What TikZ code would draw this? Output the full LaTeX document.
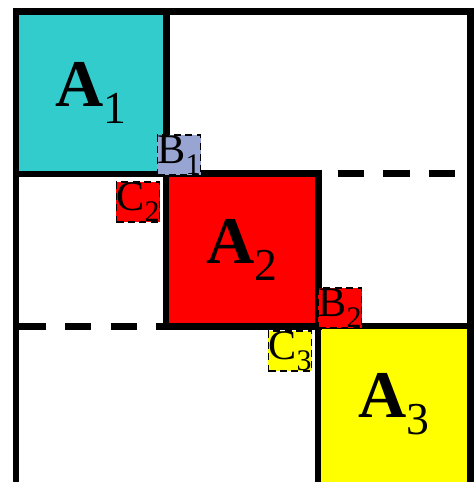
\documentclass[tikz,border=0pt]{standalone}
\usepackage{fontspec}
\setmainfont{Liberation Serif}
\usepackage{tikz}
\usetikzlibrary{positioning}
\definecolor{blockcyan}{RGB}{51,204,204}
\definecolor{blocklav}{RGB}{152,164,210}
\definecolor{blockred}{RGB}{255,0,0}
\definecolor{blockyellow}{RGB}{255,255,0}
\newcommand{\blocksub}[3]{\raisebox{-#1}{\fontsize{#2}{#2}\selectfont #3}}

\begin{document}
\begin{tikzpicture}[x=0.02cm, y=-0.02cm,
    bigblock/.style={rectangle, inner sep=0pt, font=\fontsize{38}{40}\selectfont},
    smallblock/.style={rectangle, draw=black, dashed, line width=1pt, dash pattern=on 4pt off 2.5pt, minimum size=0.8cm, inner sep=0pt, font=\fontsize{24}{26}\selectfont},
    wall/.style={line width=3.6pt},
    cut/.style={line width=4pt, dash pattern=on 15pt off 11pt}]
        \useasboundingbox (0,0) rectangle (475,482);
        % diagonal blocks
        \node[bigblock, fill=blockcyan, minimum width=3cm, minimum height=3.24cm] (A1) at (91,93) {\textbf{A}\blocksub{10pt}{26pt}{1}};
        \node[bigblock, fill=blockred, minimum width=3.04cm, minimum height=3.04cm] (A2) at (242,250) {\textbf{A}\blocksub{10pt}{26pt}{2}};
        \node[bigblock, fill=blockyellow, minimum width=3.04cm, minimum height=3.12cm] (A3) at (394,404) {\textbf{A}\blocksub{10pt}{26pt}{3}};

        % frame and block borders
        \draw[wall] (A1.north west |- A3.south) -- (A1.north west) -- (A3.north east |- A1.north) -- (A3.north east);
        \draw[wall] (A1.north east) -- (A1.south east) -- (A1.south west);
        \draw[wall] (A2.north west) rectangle (A2.south east);
        \draw[wall] (A3.south west) -- (A3.north west) -- (A3.north east) -- (A3.south east);
        \draw[cut, dash phase=15pt] (A2.north east) -- (A3.north east |- A2.north);
        \draw[cut, dash phase=-2pt] (A1.south west |- A2.south) -- (A2.south west);

        % coupling blocks
        \node[smallblock, fill=blocklav] (B1) at (179,155) {B\blocksub{6pt}{17pt}{1}};
        \node[smallblock, fill=blockred] (C2) at (138,202) {C\blocksub{6pt}{17pt}{2}};
        \node[smallblock, fill=blockred] (B2) at (340,308) {B\blocksub{6pt}{17pt}{2}};
        \node[smallblock, fill=blockyellow] (C3) at (290,351) {C\blocksub{6pt}{17pt}{3}};
\end{tikzpicture}
\end{document}
